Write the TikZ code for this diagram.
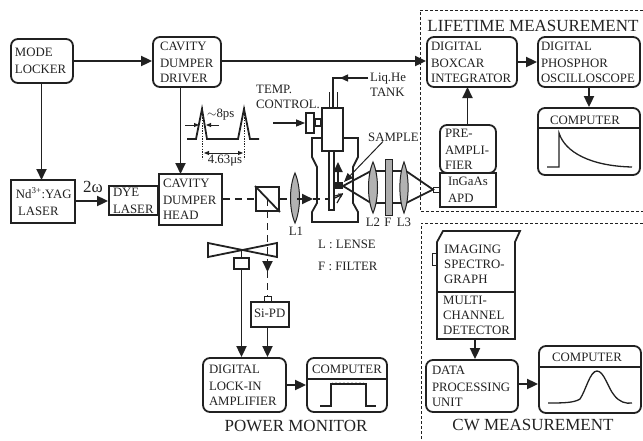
\documentclass[tikz,border=0pt]{standalone}
\usepackage{fontspec}
\setmainfont{Liberation Serif}
\usetikzlibrary{arrows.meta,calc}
\definecolor{ink}{gray}{0.13}
\tikzset{
  x=1pt,y=-1pt,
  every path/.style={ink},
  every node/.style={text=ink},
  lw/.style={line width=1.8pt,line join=miter},
  arr/.style={lw,-{Triangle[length=11pt,width=10pt]}},
  thinarr/.style={line width=.9pt,-{Triangle[length=5pt,width=4pt]}},
  sqbox/.style={draw,lw,rectangle},
  rbox/.style={draw,lw,rectangle,rounded corners=7pt},
  plain/.style={rectangle},
  body/.style={font=\fontsize{12.8}{15}\selectfont},
  lbl/.style={body,inner sep=0pt,align=left},
  head/.style={font=\fontsize{17}{20}\selectfont,inner sep=0pt},
  beam/.style={line width=1.5pt,dash pattern=on 7pt off 5pt},
  dotbox/.style={line width=.7pt,dash pattern=on 2.6pt off 2.4pt},
  dotl/.style={line width=.7pt,dash pattern=on 1.3pt off 1.3pt},
  lens/.style={draw,line width=1pt,fill=gray!60},
  curve/.style={line width=1.3pt}
}
% style, name, x1, y1, x2, y2, left pad, text
\newcommand\bx[8][sqbox]{%
  \pgfmathsetmacro\cxx{(#3+#5)/2}\pgfmathsetmacro\cyy{(#4+#6)/2}%
  \pgfmathsetmacro\ww{#5-#3-2*#7}\pgfmathsetmacro\hh{#6-#4}%
  \node[#1,body,inner xsep=#7pt,inner ysep=0pt,align=left,text width=\ww pt,minimum height=\hh pt] (#2) at (\cxx,\cyy) {\vspace*{2pt}#8};}
\newcommand\lensat[4]{% x, y1, y2, half width
  \path[lens] (#1,#2) .. controls ($(#1,#2)+(#4,14)$) and ($(#1,#3)+(#4,-14)$) .. (#1,#3)
    .. controls ($(#1,#3)+(-#4,-14)$) and ($(#1,#2)+(-#4,14)$) .. cycle;}
\begin{document}
\begin{tikzpicture}
\useasboundingbox (0,0) rectangle (643,440);
% dotted frames
\draw[dotbox] (643,10) -- (420,10) -- (420,211) -- (643,211);
\draw[dotbox] (643,223) -- (421,223) -- (421,440);
% left blocks
\bx[rbox]{ml}{11}{39}{73}{83}{4}{MODE\\LOCKER}
\bx[rbox]{cdd}{153}{37}{221}{87}{7}{CAVITY\\DUMPER\\DRIVER}
\bx{yag}{11}{180}{75}{223}{5}{Nd\textsuperscript{3+}:YAG\\\hspace*{2pt}LASER}
\bx{dye}{109}{186}{158}{215}{4}{DYE\\LASER}
\bx{cdh}{159}{174}{222}{225}{4}{CAVITY\\DUMPER\\HEAD}
% lifetime
\bx[rbox]{box}{427}{37}{517}{87}{4}{DIGITAL\\BOXCAR\\INTEGRATOR}
\bx[rbox]{pho}{538}{37}{640}{87}{3}{DIGITAL\\PHOSPHOR\\OSCILLOSCOPE}
\bx[rbox]{pre}{440}{125}{496}{173}{5}{PRE-\\AMPLI-\\FIER}
\bx{apd}{440}{173}{496}{207}{8}{InGaAs\\APD}
\node[draw,rectangle,line width=1pt,minimum width=6pt,minimum height=5pt,inner sep=0pt] (apdw) at (436.5,189.5) {};
\bx[rbox]{c1}{538}{108}{640}{175}{0}{}
\node[body,inner sep=0pt] (c1t) at (585,120) {COMPUTER};
\draw[lw] (c1.west |- 0,128) -- (c1.east |- 0,128);
\draw[curve] (547,167) -- (559,167) -- (559,133) .. controls (565,152) and (590,166) .. (632,167);
\node[head] (lt) at (533,26) {LIFETIME MEASUREMENT};
% CW
\draw[lw] (437,339) -- (437,242) -- (443,231) -- (520,231) -- (515,242) -- (515,339) -- cycle;
\draw[lw] (437,292) -- (515,292);
\coordinate (spb) at (475,339);
\draw[line width=1pt] (437,253) rectangle (432,265);
\node[lbl,anchor=north west] (st) at (444,245) {IMAGING\\SPECTRO-\\GRAPH};
\node[lbl,anchor=north west] (mc) at (443,296) {MULTI-\\CHANNEL\\DETECTOR};
\bx[rbox]{dp}{426}{360}{518}{412}{6}{DATA\\PROCESSING\\UNIT}
\bx[rbox]{c2}{539}{346}{641}{413}{0}{}
\node[body,inner sep=0pt] (c2t) at (587,357) {COMPUTER};
\draw[lw] (c2.west |- 0,367) -- (c2.east |- 0,367);
\draw[curve] (548,403) .. controls (562,403) and (574,403) .. (580,399) .. controls (586,390) and (590,371) .. (597,371)
  .. controls (604,371) and (608,388) .. (614,395) .. controls (619,402) and (626,404) .. (632,403);
\node[head] (cw) at (533,425) {CW MEASUREMENT};
% power monitor
\bx[rbox]{li}{203}{358}{286}{412}{6}{DIGITAL\\LOCK-IN\\AMPLIFIER}
\bx[rbox]{c3}{307}{358}{387}{412}{0}{}
\node[body,inner sep=0pt] (c3t) at (347,369) {COMPUTER};
\draw[lw] (c3.west |- 0,379) -- (c3.east |- 0,379);
\draw[curve] (320,406) -- (331,406) -- (331,384) -- (366,384) -- (366,406) -- (376,406);
\draw[line width=.8pt] (332,383) \foreach \i in {1,...,16} { -- ++(2,{mod(\i,2)*2-1}) };
\bx{si}{251}{302}{289}{327}{3}{Si-PD}
\node[draw,rectangle,line width=1pt,minimum width=7pt,minimum height=6pt,inner sep=0pt] (siw) at (267.5,299) {};
\draw[lw] (208,243) -- (277,257) -- (277,243) -- (208,257) -- cycle;
\node[draw,rectangle,lw,minimum width=15pt,minimum height=11pt,inner sep=0pt] (ch) at (241.5,263.5) {};
\draw[lw] (ch.north) -- ++(0,-8);
\node[head] (pm) at (296,426) {POWER MONITOR};
% optics
\node[draw,rectangle,lw,minimum width=23pt,minimum height=24pt,inner sep=0pt] (bs) at (267.5,199) {};
\draw[lw] (bs.north west) -- (bs.south east);
\lensat{295}{173}{223}{6}
\draw[lw] (343,186) -- (371,171) -- (406,171) -- (apdw.west) -- (406,203) -- (371,203) -- cycle;
\lensat{373}{162}{213}{6}
\lensat{404}{162}{213}{5.5}
\draw[line width=1pt,fill=gray!65] (385,159) rectangle (392,215);
% cryostat
\draw[lw] (322,138) -- (312,138) -- (312,157) -- (317,167) -- (317,203) -- (312,212) -- (312,222)
  -- (358,222) -- (358,212) -- (353,203) -- (353,167) -- (358,157) -- (358,138) -- (343,138);
\node[draw,rectangle,lw,fill=white,minimum width=21pt,minimum height=43pt,inner sep=0pt] (cr) at (332.5,129.5) {};
\draw[line width=1.1pt,fill=white] (329,151) rectangle (334,210);
\draw[line width=1pt] (329,92) -- (329,108) (337,92) -- (337,108);
\node[draw,rectangle,lw,minimum width=8pt,minimum height=20pt,inner sep=0pt] (tc) at (310,123) {};
\draw[line width=1.3pt] (tc.east |- 0,119) rectangle (cr.west |- 0,126);
\fill (333,182) rectangle (343,189);
\draw[line width=1.2pt] (335,196) -- (342,194) -- (337,203);
\draw[line width=1.2pt,-{Triangle[length=4pt,width=5pt]}] (335,198) -- (343,194);
% labels
\node[lbl,anchor=north west] (tct) at (256,85) {TEMP.\\CONTROL.};
\node[lbl,anchor=north west] (lhe) at (370,73) {Liq.He\\TANK};
\node[lbl,anchor=west] (sa) at (368,137) {SAMPLE};
\node[lbl] (l1) at (296,231) {L1};
\node[lbl] (l2) at (373,222) {L2};
\node[lbl] (ft) at (388,222) {F};
\node[lbl] (l3) at (404,222) {L3};
\node[lbl,anchor=west] (ll) at (318,244) {L : LENSE};
\node[lbl,anchor=west] (ff) at (318,266) {F : FILTER};
\node[lbl,anchor=west,font=\fontsize{17}{17}\selectfont] (two) at (83,187) {2ω};
\node[lbl,anchor=west] (ps) at (207,115) {$\sim$8ps};
\node[lbl] (us) at (225,161) {4.63μs};
% pulses
\draw[lw] (187,139) -- (196,139) -- (202,109) -- (207,139) -- (238,139) -- (244,109) -- (250,139) -- (259,139);
\draw[dotl] (202,107) -- (202,159) (244,107) -- (244,159);
\draw[thinarr] (185,125) -- (199,125);
\draw[thinarr] (219,125) -- (206,125);
\draw[line width=.9pt,{Triangle[length=5pt,width=4pt]}-{Triangle[length=5pt,width=4pt]}] (204,153) -- (243,153);
% connectors
\draw[arr] (ml.east) -- (cdd.west |- ml.east);
\draw[arr] (41.5,83) -- (41.5,180);
\draw[arr] (180.5,87) -- (180.5,174);
\draw[arr] (yag.east |- 0,201) -- (dye.west |- 0,201);
\draw[arr] (cdd.east |- 0,61) -- (box.west |- 0,61);
\draw[arr] (box.east) -- (pho.west);
\draw[arr] (467.5,125) -- (467.5,87);
\draw[arr] (pho.south -| c1.north) -- (c1.north);
\draw[arr] (spb) -- (spb |- dp.north);
\draw[arr] (dp.east |- 0,384) -- (c2.west |- 0,384);
\draw[arr] (li.east) -- (c3.west);
\draw[arr] (ch.south) -- (ch.south |- li.north);
\draw[arr] (si.south -| siw.south) -- (siw.south |- li.north);
\draw[arr] (297,199) -- (313,199);
\draw[beam] (cdh.east |- bs.center) -- (bs.west);
\draw[beam] (bs.east) -- (289,199);
\draw[beam] (313,199) -- (328,199);
\draw[beam] (bs.center) -- (bs.center |- siw.north);
\draw[arr] (267.5,260) -- (267.5,272);
\draw[thinarr,line width=1.2pt,-{Triangle[length=9pt,width=7pt]}] (tc.west -| 273,0) -- (tc.west);
\coordinate (ta) at (368,78);
\draw[line width=1.3pt] (ta) -- (333,78) -- (333,108);
\draw[line width=1.3pt,-{Triangle[length=8pt,width=7pt]}] (ta) -- (340,78);
\draw[lw,-{Triangle[length=10pt,width=9pt]}] (338,182) -- (338,162);
\draw[line width=1pt,-{Triangle[length=9pt,width=7pt]}] (sa.south -| 383,0) -- (344,182);
\end{tikzpicture}
\end{document}
